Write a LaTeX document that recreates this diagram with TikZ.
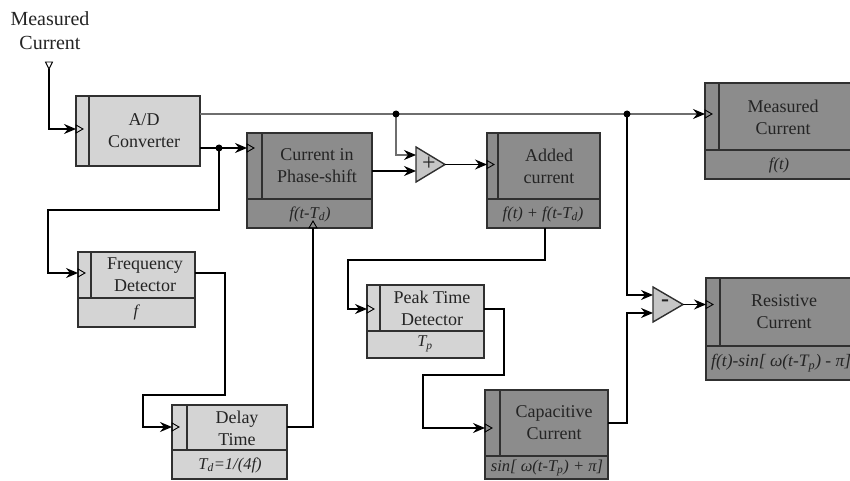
\documentclass[tikz,border=0pt]{standalone}
\usepackage{fontspec}
\setmainfont{Liberation Serif}
\usetikzlibrary{arrows.meta}
\definecolor{lightbox}{HTML}{D4D4D4}
\definecolor{darkbox}{HTML}{8C8C8C}
\definecolor{sumfill}{HTML}{C6C6C6}
\definecolor{edgecol}{HTML}{303030}
\definecolor{txtcol}{HTML}{242424}
\definecolor{mainline}{HTML}{6E6E6E}
\newcommand{\blockbox}[6]{%
  \node[blockshape, fill=#6, minimum width={#4-#2}, minimum height={#5-#3}] (#1) at ({(#2+#4)/2},{(#3+#5)/2}) {};}
\newcommand{\rport}[2]{\draw[portline] (#1,{#2-4}) -- ({#1+7},#2) -- (#1,{#2+4}) -- cycle;}
\begin{document}
\begin{tikzpicture}[x=1pt,y=-1pt,
  blockshape/.style={draw=edgecol, line width=1.6pt, inner sep=0pt, outer sep=0pt, rectangle},
  boxline/.style={draw=edgecol, line width=1.5pt},
  conn/.style={draw=black, line width=1.5pt, -{Stealth[length=12pt,width=10pt,inset=4pt]}},
  wire/.style={draw=black, line width=1.5pt},
  thinconn/.style={draw=mainline, line width=1.1pt, -{Stealth[length=12pt,width=10pt,inset=4pt,color=black]}},
  portline/.style={draw=black, line width=0.9pt},
  maintext/.style={font=\fontsize{18}{22}\selectfont, align=center, text=txtcol, inner sep=0pt},
  toptext/.style={font=\fontsize{20}{24}\selectfont, align=center, text=txtcol, inner sep=0pt},
  subtext/.style={font=\fontsize{16.5}{20}\selectfont\itshape, text=txtcol, inner sep=0pt},
  sumsign/.style={font=\fontsize{24}{24}\selectfont, text=txtcol, inner sep=0pt},
  dot/.style={circle, fill=black, inner sep=0pt, minimum size=7pt},
  sumshape/.style={draw=edgecol, line width=1.4pt, fill=sumfill}
]
\useasboundingbox (0,0) rectangle (850,481);
\clip (0,0) rectangle (850,481);

% ---- blocks ----
\blockbox{ad}{76}{96}{200}{166}{lightbox}
\draw[boxline] (89,96) -- (89,166);
\blockbox{ps}{247}{133}{372}{228}{darkbox}
\draw[boxline] (262,133) -- (262,199); \draw[boxline] (247,199) -- (372,199);
\blockbox{ac}{487}{133}{600}{228}{darkbox}
\draw[boxline] (498,133) -- (498,199); \draw[boxline] (487,199) -- (600,199);
\blockbox{mc}{705}{83}{853}{179}{darkbox}
\draw[boxline] (719,83) -- (719,150); \draw[boxline] (705,150) -- (853,150);
\blockbox{fd}{78}{252}{195}{327}{lightbox}
\draw[boxline] (91,252) -- (91,298); \draw[boxline] (78,298) -- (195,298);
\blockbox{pt}{367}{285}{484}{358}{lightbox}
\draw[boxline] (380,285) -- (380,331); \draw[boxline] (367,331) -- (484,331);
\blockbox{dt}{172}{405}{287}{479}{lightbox}
\draw[boxline] (187,405) -- (187,450); \draw[boxline] (172,450) -- (287,450);
\blockbox{cc}{485}{390}{608}{479}{darkbox}
\draw[boxline] (500,390) -- (500,456); \draw[boxline] (485,456) -- (608,456);
\blockbox{rc}{706}{278}{853}{380}{darkbox}
\draw[boxline] (720,278) -- (720,346); \draw[boxline] (706,346) -- (853,346);

% ---- texts ----
\node[toptext] (lbl-in) at (50,31) {Measured\\Current};
\node[maintext] (ad-t) at (144,131) {A/D\\Converter};
\node[maintext] (ps-t) at (317,166) {Current in\\Phase-shift};
\node[subtext] (ps-s) at (310,214) {f(t-T\textsubscript{d})};
\node[maintext] (ac-t) at (549,166) {Added\\current};
\node[subtext] (ac-s) at (543,214) {f(t) + f(t-T\textsubscript{d})};
\node[maintext] (mc-t) at (783,117) {Measured\\Current};
\node[subtext] (mc-s) at (779,165) {f(t)};
\node[maintext] (fd-t) at (145,275) {Frequency\\Detector};
\node[subtext] (fd-s) at (136,312) {f};
\node[maintext] (pt-t) at (432,308) {Peak Time\\Detector};
\node[subtext] (pt-s) at (425,344) {T\textsubscript{p}};
\node[maintext] (dt-t) at (237,428) {Delay\\Time};
\node[subtext] (dt-s) at (230,465) {T\textsubscript{d}=1/(4f)};
\node[maintext] (cc-t) at (554,423) {Capacitive\\Current};
\node[subtext] (cc-s) at (547,468) {sin[ ω(t-T\textsubscript{p}) + π]};
\node[maintext] (rc-t) at (784,312) {Resistive\\Current};
\node[subtext, anchor=west, font=\fontsize{17.5}{20}\selectfont\itshape] (rc-s) at (711,363) {f(t)-sin[ ω(t-T\textsubscript{p}) - π]};

% ---- summing junctions ----
\draw[sumshape] (416,147) -- (445,164.5) -- (416,182) -- cycle;
\node[sumsign] (s1-t) at (429,164) {+};
\draw[sumshape] (653,287) -- (683,304.5) -- (653,322) -- cycle;
\node[sumsign] (s2-t) at (665,303) {\textbf{-}};

% ---- port coordinates ----
\coordinate (src) at (49,69);
\coordinate (ad-i) at (76,129);
\coordinate (ad-o1) at (200,114);
\coordinate (ad-o2) at (200,148);
\coordinate (mc-i) at (705,114);
\coordinate (ps-i) at (247,148);
\coordinate (ps-o) at (372,171);
\coordinate (ps-b) at (313,228);
\coordinate (s1-a) at (416,155);
\coordinate (s1-b) at (416,171);
\coordinate (s1-o) at (445,164.5);
\coordinate (ac-i) at (487,164.5);
\coordinate (ac-b) at (545,228);
\coordinate (fd-i) at (78,273);
\coordinate (fd-o) at (195,273);
\coordinate (pt-i) at (367,309);
\coordinate (pt-o) at (484,309);
\coordinate (dt-i) at (172,427);
\coordinate (dt-o) at (287,427);
\coordinate (cc-i) at (485,428);
\coordinate (cc-o) at (608,423);
\coordinate (s2-a) at (653,295);
\coordinate (s2-b) at (653,313);
\coordinate (s2-o) at (683,304.5);
\coordinate (rc-i) at (706,304.5);
\coordinate (j1) at (396,114);
\coordinate (j2) at (627,114);
\coordinate (j3) at (219,148);
\coordinate (b1) at (48,210);
\coordinate (b2) at (225,395);
\coordinate (b3) at (143,427);
\coordinate (b4) at (348,260);
\coordinate (b5) at (504,375);
\coordinate (b6) at (423,428);
\coordinate (b7) at (627,313);

% ---- connectors ----
\draw[conn] (src) |- (ad-i);
\draw[thinconn] (ad-o1) -- (mc-i);
\draw[conn] (ad-o2) -- (ps-i);
\draw[conn] (j3) |- (b1) |- (fd-i);
\draw[conn] (fd-o) -| (b2) -| (b3) -- (dt-i);
\draw[wire] (dt-o) -| (ps-b);
\draw[thinconn] (j1) |- (s1-a);
\draw[conn] (ps-o) -- (s1-b);
\draw[conn] (s1-o) -- (ac-i);
\draw[conn] (ac-b) |- (b4) |- (pt-i);
\draw[conn] (pt-o) -| (b5) -| (b6) -- (cc-i);
\draw[conn] (j2) |- (s2-a);
\draw[conn] (cc-o) -| (b7) -- (s2-b);
\draw[conn] (s2-o) -- (rc-i);

% ---- ports ----
\rport{76}{129}
\rport{247}{148}
\rport{487}{164.5}
\rport{705}{114}
\rport{78}{273}
\rport{367}{309}
\rport{172}{427}
\rport{485}{428}
\rport{706}{304.5}
\draw[portline] (309,228) -- (313,221) -- (317,228) -- cycle;
\draw[portline] (45.5,62) -- (52.5,62) -- (49,69) -- cycle;

% ---- junction dots ----
\node[dot] (j1d) at (j1) {};
\node[dot] (j2d) at (j2) {};
\node[dot] (j3d) at (j3) {};
\end{tikzpicture}
\end{document}
